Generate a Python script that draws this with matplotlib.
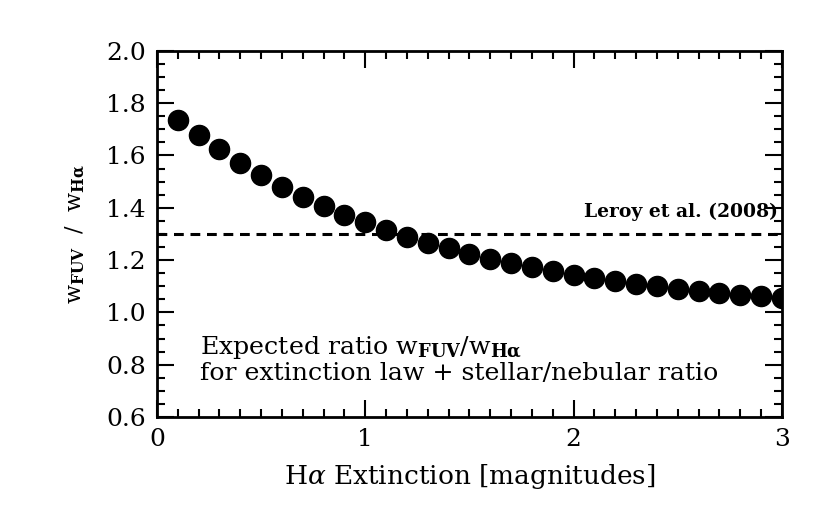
import numpy as np
import matplotlib
matplotlib.use("Agg")
import matplotlib.pyplot as plt
from matplotlib.ticker import MultipleLocator, FormatStrFormatter

# H-alpha extinction (mag) and expected w_FUV / w_Halpha
a_halpha = [0.1, 0.2, 0.3, 0.4, 0.5, 0.6, 0.7, 0.8, 0.9, 1.0,
            1.1, 1.2, 1.3, 1.4, 1.5, 1.6, 1.7, 1.8, 1.9, 2.0,
            2.1, 2.2, 2.3, 2.4, 2.5, 2.6, 2.7, 2.8, 2.9, 3.0]
ratio = [1.735, 1.678, 1.624, 1.571, 1.525, 1.479, 1.441, 1.406, 1.372, 1.345,
         1.315, 1.288, 1.265, 1.245, 1.222, 1.203, 1.188, 1.173, 1.158, 1.142,
         1.131, 1.119, 1.108, 1.100, 1.089, 1.081, 1.073, 1.066, 1.062, 1.055]
leroy_ratio = 1.3

plt.rcParams['font.family'] = ['DejaVu Serif']
plt.rcParams['mathtext.fontset'] = 'dejavuserif'

fig = plt.figure(figsize=(8.3, 5.19), dpi=100)
ax = fig.add_axes([0.189, 0.1965, 0.753, 0.7055])

ax.plot(a_halpha, ratio, 'o', color='black', markersize=14.5, clip_on=True)
ax.axhline(leroy_ratio, color='black', linestyle=(0, (3.2, 2.2)), linewidth=2.2)

ax.text(0.993, leroy_ratio + 0.05, 'Leroy et al. (2008)', transform=ax.get_yaxis_transform(),
        ha='right', va='bottom', fontsize=13.5, fontweight='semibold')
ax.text(0.205, 0.867, r'Expected ratio w$_{\mathbf{FUV}}$/w$_{\mathbf{H\alpha}}$',
        fontsize=18.2, ha='left', va='center')
ax.text(0.205, 0.768, 'for extinction law + stellar/nebular ratio',
        fontsize=18.2, ha='left', va='center')

ax.set_xlim(0, 3)
ax.set_ylim(0.6, 2.0)
ax.xaxis.set_major_locator(MultipleLocator(1))
ax.xaxis.set_minor_locator(MultipleLocator(0.1))
ax.yaxis.set_major_locator(MultipleLocator(0.2))
ax.yaxis.set_minor_locator(MultipleLocator(0.05))
ax.tick_params(which='both', direction='in', top=True, right=True, width=1.5, labelsize=18)
ax.tick_params(which='major', length=12, pad=8)
ax.tick_params(which='minor', length=6)
ax.xaxis.set_major_formatter(FormatStrFormatter('%d'))
ax.yaxis.set_major_formatter(FormatStrFormatter('%.1f'))
for s in ax.spines.values():
    s.set_linewidth(2)

ax.set_xlabel(r'H$\alpha$ Extinction [magnitudes]', fontsize=19, labelpad=8)
ax.set_ylabel(r'w$_{\mathbf{FUV}}$  /  w$_{\mathbf{H\alpha}}$', fontsize=16, labelpad=14)

fig.savefig('out.png', dpi=100)
